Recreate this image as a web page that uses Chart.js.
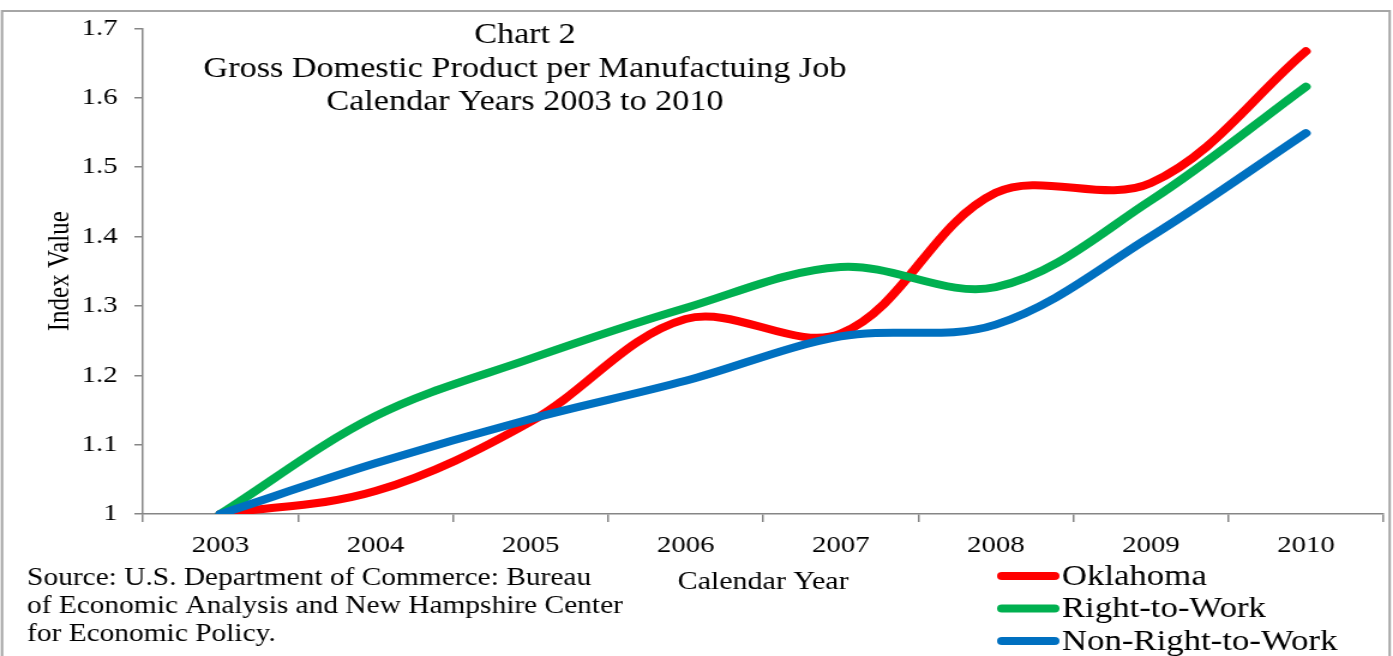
<!DOCTYPE html>
<html lang="en">
<head>
  <meta charset="UTF-8">
  <title>Chart 2 - Gross Domestic Product per Manufacturing Job</title>
  <script src="https://cdn.jsdelivr.net/npm/chart.js@4"></script>
  <style>
    body { margin: 0; overflow: hidden; background: white; }
    /* canvas is drawn narrower and stretched wide, the serif type comes out broad like the print version */
    #gdpChart { display: block; width: 1393px !important; height: 656px !important; }
  </style>
</head>
<body>
<canvas id="gdpChart" width="1161" height="656"></canvas>
<script>
const years = ['2003', '2004', '2005', '2006', '2007', '2008', '2009', '2010'];
const oklahoma = [1.0, 1.033, 1.133, 1.281, 1.260, 1.463, 1.477, 1.667];
const rightToWork = [1.0, 1.141, 1.224, 1.297, 1.356, 1.327, 1.452, 1.616];
const nonRightToWork = [1.0, 1.073, 1.137, 1.192, 1.256, 1.273, 1.400, 1.549];
const yTicks = [1, 1.1, 1.2, 1.3, 1.4, 1.5, 1.6, 1.7];

const titleLines = [
  'Chart 2',
  'Gross Domestic Product per Manufactuing Job',
  'Calendar Years 2003 to 2010'
];
const sourceLines = [
  'Source: U.S. Department of Commerce: Bureau',
  'of Economic Analysis and New Hampshire Center',
  'for Economic Policy.'
];

const SERIF = '"Liberation Serif", "Times New Roman", serif';
const AXIS_GRAY = '#868686';

// frame, title block, source note and legend
const decorations = {
  id: 'decorations',
  afterDraw(chart) {
    const ctx = chart.ctx;
    ctx.save();

    ctx.strokeStyle = '#a6a6a6';
    ctx.lineWidth = 2;
    ctx.strokeRect(1.7, 11, 1156.5, 700);

    ctx.fillStyle = '#000';
    ctx.textAlign = 'center';
    ctx.textBaseline = 'alphabetic';
    ctx.font = '28.5px ' + SERIF;
    titleLines.forEach((t, i) => ctx.fillText(t, 437.5, 43 + i * 33.5));

    ctx.textAlign = 'left';
    ctx.font = '24.5px ' + SERIF;
    sourceLines.forEach((t, i) => ctx.fillText(t, 22.5, 585 + i * 28));

    ctx.font = '29px ' + SERIF;
    ctx.textBaseline = 'middle';
    ctx.lineCap = 'round';
    ctx.lineWidth = 8;
    chart.data.datasets.forEach((ds, i) => {
      const y = 576 + i * 32.5;
      ctx.strokeStyle = ds.borderColor;
      ctx.beginPath();
      ctx.moveTo(835, y);
      ctx.lineTo(879, y);
      ctx.stroke();
      ctx.fillText(ds.label, 885, y + 1);
    });

    ctx.restore();
  }
};

function series(label, data, color, order) {
  return {
    label: label,
    data: data,
    borderColor: color,
    backgroundColor: color,
    borderWidth: 8,
    borderCapStyle: 'round',
    borderJoinStyle: 'round',
    pointRadius: 0,
    tension: 0.35,
    fill: false,
    order: order
  };
}

new Chart(document.getElementById('gdpChart'), {
  type: 'line',
  data: {
    labels: years,
    datasets: [
      series('Oklahoma', oklahoma, '#ff0000', 3),
      series('Right-to-Work', rightToWork, '#00b050', 2),
      series('Non-Right-to-Work', nonRightToWork, '#0070c0', 1)
    ]
  },
  options: {
    responsive: false,
    devicePixelRatio: 1,
    animation: false,
    events: [],
    layout: { padding: { left: 0, right: 8, top: 24, bottom: 0 } },
    plugins: {
      legend: { display: false },
      tooltip: { enabled: false },
      title: { display: false }
    },
    scales: {
      x: {
        offset: true,
        grid: { offset: true, drawOnChartArea: false, drawTicks: true, tickLength: 8, color: AXIS_GRAY, lineWidth: 1.5 },
        border: { color: AXIS_GRAY, width: 1.5 },
        ticks: { color: '#000', font: { family: SERIF, size: 24 }, padding: 9, maxRotation: 0, autoSkip: false },
        title: {
          display: true,
          text: 'Calendar Year',
          color: '#000',
          font: { family: SERIF, size: 25 },
          padding: { top: 0, bottom: 59 }
        },
        afterFit(scale) { scale.height = 142; }
      },
      y: {
        min: 1,
        max: 1.7,
        afterBuildTicks(scale) { scale.ticks = yTicks.map(v => ({ value: v })); },
        grid: { drawOnChartArea: false, drawTicks: true, tickLength: 7, color: AXIS_GRAY, lineWidth: 1.5 },
        border: { color: AXIS_GRAY, width: 1.5 },
        ticks: { color: '#000', font: { family: SERIF, size: 24 }, padding: 14, callback: v => String(v) },
        title: {
          display: true,
          text: 'Index Value',
          color: '#000',
          font: { family: SERIF, size: 25 },
          padding: { top: 35, bottom: 0 }
        },
        afterFit(scale) { scale.width = 119; }
      }
    }
  },
  plugins: [decorations]
});
</script>
</body>
</html>
